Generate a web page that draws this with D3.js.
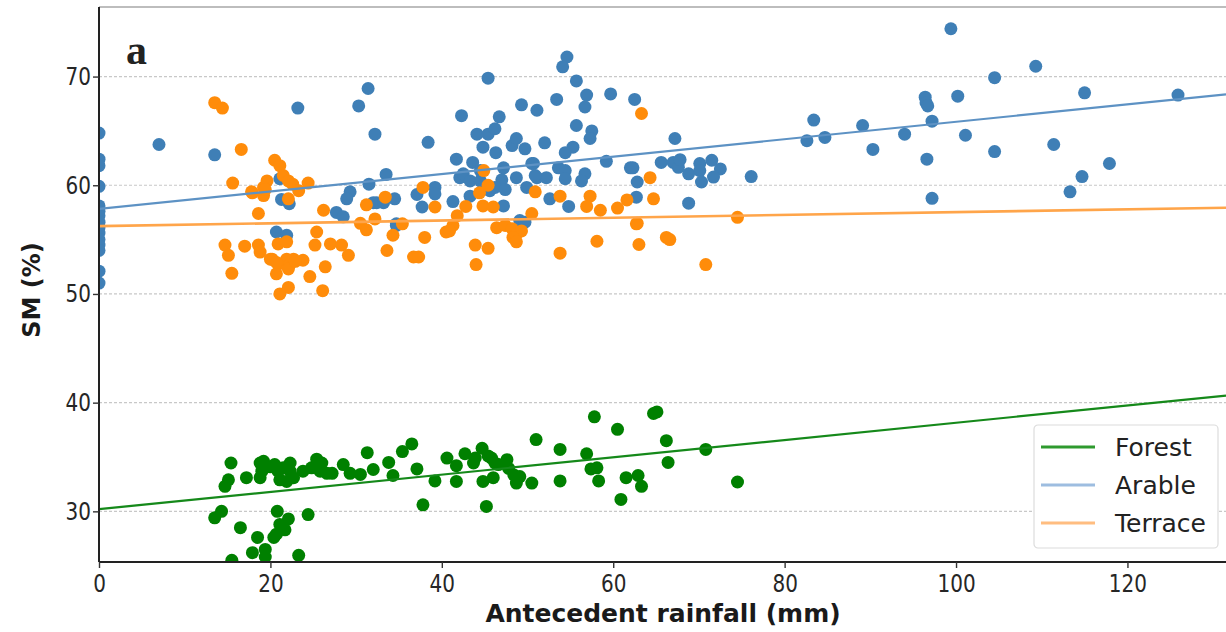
<!DOCTYPE html>
<html>
<head>
<meta charset="utf-8">
<script src="https://cdn.jsdelivr.net/npm/d3@7"></script>
<style>
  html, body { margin: 0; padding: 0; background: #fff; }
  svg { display: block; }
</style>
</head>
<body>
<svg id="chart" width="1226" height="632"></svg>
<script>
// Soil moisture vs antecedent rainfall, three land uses.
const seriesNames = ["Forest", "Arable", "Terrace"];
const seriesColors = ["#008000", "#3f7fb6", "#ff8c0a"];
const lineColors = ["#15891a", "#5d92c4", "#ffa54a"];
const legendColors = ["#2e9a2e", "#9dbde0", "#ffbd80"];

// Linear fits: [intercept, slope]
const fitForest = [30.2, 0.0795];
const fitArable = [57.83, 0.0801];
const fitTerrace = [56.24, 0.0129];

const xTicks = [0, 20, 40, 60, 80, 100, 120];
const yTicks = [30, 40, 50, 60, 70];

// Arable: rainfall (mm)
const arableX = [
  0,0,0,0,0,0,0,0,0,0,0,0,0,0,0,
  7.0,13.5,23.2,30.3,31.4,32.2,33.5,31.5,29.3,28.9,27.7,28.5,32.0,21.3,22.2,20.7,21.9,21.1,
  32.4,33.2,34.7,38.4,42.3,46.7,49.3,51.1,53.4,56.9,56.7,59.7,62.5,44.1,45.4,46.2,44.8,46.3,
  48.2,48.7,49.7,52.0,55.7,57.5,57.3,55.3,54.4,41.7,43.6,42.1,42.5,43.3,44.5,44.5,47.2,47.0,
  48.7,50.7,51.1,52.2,53.6,54.4,54.4,56.7,56.3,59.2,62.0,62.3,62.7,39.2,39.2,37.1,34.5,37.7,
  41.3,43.3,45.6,46.2,47.4,47.2,49.9,52.6,54.8,49.1,49.7,34.7,54.6,54.1,45.4,55.7,67.2,65.6,
  67.0,67.6,62.8,50.5,50.9,67.8,68.8,70.1,70.1,70.3,71.5,72.5,71.7,68.8,76.1,82.6,83.4,84.7,
  89.1,90.3,94.0,96.4,96.5,96.7,97.2,96.6,97.2,99.4,100.2,101.1,104.5,104.5,109.3,111.4,115.0,
  114.7,113.3,117.9,125.9
];
// Arable: soil moisture (%)
const arableY = [
  64.8,62.4,61.8,59.9,58.1,57.6,57.2,56.6,56.1,55.6,55.0,54.5,54.0,52.1,51.0,
  63.75,62.8,67.1,67.3,68.9,64.7,61.0,60.1,59.4,58.75,57.5,57.1,58.4,58.7,58.3,55.7,55.4,60.6,
  58.4,58.4,56.3,63.95,66.4,66.3,67.4,66.9,67.9,68.3,67.2,68.4,67.9,64.7,64.7,65.2,63.5,63.0,
  63.65,64.3,63.35,63.9,65.5,65.0,64.3,63.5,63.0,62.4,62.1,60.7,61.05,60.4,61.35,60.4,61.6,60.5,
  60.7,62.0,60.7,60.7,61.6,61.35,60.6,61.05,60.4,62.2,61.6,61.6,58.9,59.8,59.2,59.15,58.75,58.0,
  58.5,59.0,59.5,59.8,59.6,58.1,59.8,58.75,58.05,56.75,56.6,56.45,71.8,70.9,69.85,69.6,64.3,62.1,
  62.1,61.65,60.3,62.0,60.9,62.35,61.05,62.0,61.35,60.3,62.3,61.5,60.75,58.35,60.8,64.1,66.0,64.4,
  65.5,63.3,64.7,68.1,67.6,67.3,65.9,62.4,58.8,74.4,68.2,64.6,69.9,63.1,70.95,63.75,68.5,
  60.8,59.4,62.0,68.3
];

// Terrace: rainfall (mm)
const terraceX = [
  13.5,14.4,16.6,15.6,20.5,21.1,21.5,22.1,22.6,23.3,24.4,19.6,19.2,17.9,19.2,22.1,18.6,26.2,25.4,
  14.7,15.1,15.5,17.0,18.6,18.8,20.2,20.9,21.9,22.3,22.7,23.8,20.9,21.9,25.2,27.0,28.3,29.1,26.4,
  20.7,22.1,22.1,24.6,21.1,26.1,31.2,33.4,30.5,31.2,32.2,33.6,19.4,17.8,34.3,20.0,22.9,20.7,
  37.8,39.2,44.9,45.4,44.4,44.8,46.0,42.8,41.8,41.3,40.5,40.9,50.9,53.8,50.5,46.4,47.4,48.2,48.7,
  49.3,48.3,48.7,35.4,38.0,36.7,37.3,43.9,45.4,53.8,58.1,57.3,56.9,58.5,60.5,61.6,63.3,62.7,
  64.3,64.7,62.8,63.0,66.2,66.6,44.0,74.5,70.8
];
// Terrace: soil moisture (%)
const terraceY = [
  67.6,67.1,63.3,60.2,62.3,61.8,60.9,60.4,60.1,59.5,60.2,60.4,59.8,59.3,59.05,58.75,57.4,57.7,55.7,
  54.5,53.55,51.9,54.4,54.5,53.85,53.2,52.75,53.2,52.75,53.2,53.1,54.6,54.8,54.5,54.6,54.5,53.55,52.5,
  51.85,52.3,50.6,51.6,50.0,50.3,58.2,58.9,56.5,55.9,56.9,54.0,59.6,59.4,55.4,53.2,53.0,52.9,
  59.8,58.0,61.35,60.0,59.3,58.1,58.0,58.05,57.2,56.3,55.7,55.8,59.4,59.0,57.4,56.1,56.3,56.0,55.5,
  55.8,55.2,54.8,56.45,55.2,53.4,53.4,54.5,54.2,53.75,54.85,59.0,58.05,57.7,57.9,58.65,66.6,56.45,
  60.7,58.75,56.5,54.55,55.2,55.0,52.7,57.05,52.7
];

// Forest: rainfall (mm)
const forestX = [
  15.4,15.1,14.7,17.2,18.8,19.2,18.8,19.0,20.0,20.5,20.9,21.1,21.9,21.5,22.3,22.7,22.3,
  23.8,24.8,25.4,26.0,25.8,26.6,27.2,28.5,29.3,30.5,31.3,32.0,33.8,34.3,35.4,36.5,37.1,39.2,
  37.8,40.6,41.7,42.7,43.7,44.7,44.8,45.4,46.0,46.2,45.2,13.5,14.3,16.5,18.5,17.9,19.4,19.4,
  15.5,20.8,22.1,21.1,21.7,20.7,20.4,24.4,23.3,41.7,43.9,45.8,46.6,47.6,47.8,48.4,48.7,49.1,
  50.5,51.0,53.8,53.8,56.9,57.8,57.4,58.1,58.3,60.5,60.9,61.5,62.9,63.3,64.7,65.1,66.2,66.4,
  70.8,74.5
];
// Forest: soil moisture (%)
const forestY = [
  34.45,32.9,32.3,33.1,34.45,34.6,33.1,33.7,34.1,34.3,33.7,32.9,32.75,34.0,34.45,33.1,33.7,
  33.7,34.0,34.8,34.45,33.7,33.5,33.5,34.3,33.5,33.4,35.4,33.85,34.5,33.3,35.5,36.2,33.9,32.8,
  30.6,34.9,32.75,35.3,34.45,35.8,32.75,35.1,33.1,34.45,30.45,29.4,30.0,28.5,27.6,26.2,26.5,25.8,
  25.5,30.0,29.3,28.8,28.3,27.9,27.6,29.7,25.95,34.2,34.9,34.9,34.3,34.75,33.95,33.35,32.6,33.2,
  32.6,36.6,35.7,32.8,35.3,38.7,33.9,34.0,32.8,37.55,31.1,33.1,33.3,32.3,39.0,39.15,36.5,34.5,
  35.7,32.7
];

const svg = d3.select("#chart");
const W = 1226, H = 632;
const margin = { left: 99, right: 0, top: 7, bottom: 70 };

const x = d3.scaleLinear().domain([0, 131.5]).range([margin.left, W - margin.right]);
const y = d3.scaleLinear().domain([25.34, 76.4]).range([H - margin.bottom, margin.top]);

svg.append("rect").attr("width", W).attr("height", H).attr("fill", "#fff");

const plot = svg.append("g");
svg.append("defs").append("clipPath").attr("id", "clip")
  .append("rect")
  .attr("x", margin.left).attr("y", margin.top)
  .attr("width", W - margin.left - margin.right)
  .attr("height", H - margin.bottom - margin.top);

// horizontal grid
plot.append("g")
  .selectAll("line")
  .data(yTicks)
  .join("line")
  .attr("x1", margin.left).attr("x2", W)
  .attr("y1", d => y(d)).attr("y2", d => y(d))
  .attr("stroke", "#c8c8c8")
  .attr("stroke-width", 1.2)
  .attr("stroke-dasharray", "3,2");

const dots = plot.append("g").attr("clip-path", "url(#clip)");
function drawDots(xs, ys, color) {
  dots.append("g")
    .selectAll("circle")
    .data(xs.map((v, i) => [v, ys[i]]))
    .join("circle")
    .attr("cx", d => x(d[0]))
    .attr("cy", d => y(d[1]))
    .attr("r", 6.5)
    .attr("fill", color);
}
drawDots(arableX, arableY, seriesColors[1]);
drawDots(terraceX, terraceY, seriesColors[2]);
drawDots(forestX, forestY, seriesColors[0]);

// fitted lines
const lines = plot.append("g").attr("clip-path", "url(#clip)");
const xEnds = x.domain();
[[fitForest, lineColors[0], 2.2], [fitArable, lineColors[1], 2.2], [fitTerrace, lineColors[2], 2.6]]
  .forEach(([f, c, w]) => {
    lines.append("line")
      .attr("x1", x(xEnds[0])).attr("y1", y(f[0] + f[1] * xEnds[0]))
      .attr("x2", x(xEnds[1])).attr("y2", y(f[0] + f[1] * xEnds[1]))
      .attr("stroke", c)
      .attr("stroke-width", w);
  });

// frame: light top edge, dark left and bottom spines
svg.append("line")
  .attr("x1", margin.left).attr("x2", W)
  .attr("y1", margin.top).attr("y2", margin.top)
  .attr("stroke", "#bdbdbd").attr("stroke-width", 2);

const fontTick = "'DejaVu Sans', sans-serif";
const squeeze = 0.8; // narrow, tall tick lettering

const xAxis = svg.append("g")
  .attr("transform", `translate(0,${H - margin.bottom})`)
  .call(d3.axisBottom(x).tickValues(xTicks).tickSize(6).tickPadding(6).tickFormat(d3.format("d")));
const yAxis = svg.append("g")
  .attr("transform", `translate(${margin.left},0)`)
  .call(d3.axisLeft(y).tickValues(yTicks).tickSize(6).tickPadding(6).tickFormat(d3.format("d")));

[xAxis, yAxis].forEach(g => {
  g.select(".domain").attr("stroke", "#222").attr("stroke-width", 2);
  g.selectAll(".tick line").attr("stroke", "#333").attr("stroke-width", 1.4);
  g.selectAll(".tick text")
    .attr("fill", "#262626")
    .style("font-family", fontTick)
    .style("font-size", "25px");
});
// condense tick labels horizontally around their anchor
xAxis.selectAll(".tick text").attr("transform", `scale(${squeeze},1)`);
yAxis.selectAll(".tick text")
  .attr("x", -8 / squeeze)
  .attr("transform", `scale(${squeeze},1)`);
xAxis.select(".domain").attr("d", `M${margin.left},0H${W}`);
yAxis.select(".domain").attr("d", `M0,${margin.top}V${H - margin.bottom}`);

// axis titles
svg.append("text")
  .attr("x", 663).attr("y", 622)
  .attr("text-anchor", "middle")
  .attr("fill", "#1a1a1a")
  .style("font-family", fontTick)
  .style("font-weight", "bold")
  .style("font-size", "25px")
  .text("Antecedent rainfall (mm)");

svg.append("text")
  .attr("transform", "translate(40,290) rotate(-90)")
  .attr("text-anchor", "middle")
  .attr("fill", "#1a1a1a")
  .style("font-family", fontTick)
  .style("font-weight", "bold")
  .style("font-size", "24px")
  .text("SM (%)");

// panel letter
svg.append("text")
  .attr("x", 126).attr("y", 64)
  .attr("fill", "#222")
  .style("font-family", "'Liberation Serif', 'Times New Roman', serif")
  .style("font-weight", "bold")
  .style("font-size", "42px")
  .text("a");

// legend
const legend = svg.append("g").attr("transform", "translate(1034,425)");
legend.append("rect")
  .attr("width", 184).attr("height", 123)
  .attr("rx", 4)
  .attr("fill", "#fff")
  .attr("stroke", "#dcdcdc")
  .attr("stroke-width", 1.2);
seriesNames.forEach((name, i) => {
  const gy = 22 + i * 38;
  legend.append("line")
    .attr("x1", 7).attr("x2", 61)
    .attr("y1", gy).attr("y2", gy)
    .attr("stroke", legendColors[i])
    .attr("stroke-width", 3);
  legend.append("text")
    .attr("x", 81).attr("y", gy + 9)
    .attr("fill", "#222")
    .style("font-family", fontTick)
    .style("font-size", "25px")
    .text(name);
});
</script>
</body>
</html>
